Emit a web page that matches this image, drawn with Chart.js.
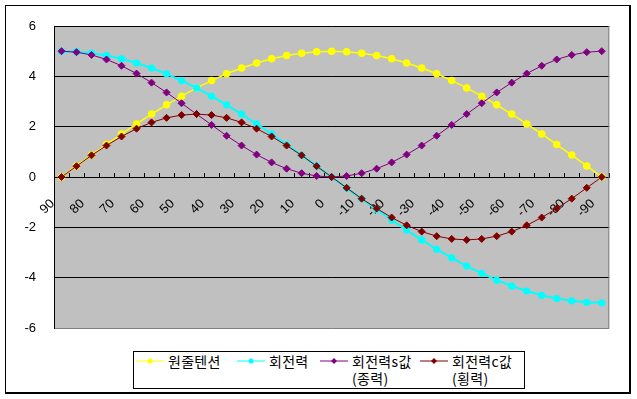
<!DOCTYPE html>
<html>
<head>
<meta charset="utf-8">
<script src="https://cdn.jsdelivr.net/npm/chart.js@4"></script>
<style>
  body { margin: 0; background: #fff; }
  #wrap { position: relative; width: 637px; height: 399px; }
  #frame { position: absolute; left: 5px; top: 5px; width: 623px; height: 386px;
    border: 1px solid #000; border-right-width: 2px; border-bottom-width: 2px; }
  canvas { position: absolute; left: 0; top: 0; }
  #legend { position: absolute; left: 133px; top: 351px; width: 388px; height: 36px;
    border: 1px solid #000; background: #fff; display: flex; padding-left: 2px;
    font: 14px "Noto Sans CJK KR"; color: #000; box-sizing: content-box; }
  .item { display: flex; align-items: flex-start; flex: none; }
  .item svg { margin-top: 3px; margin-right: 4px; flex: none; }
  .item span { line-height: 17px; padding-top: 1px; white-space: nowrap; letter-spacing: 0.3px; }
</style>
</head>
<body>
<div id="wrap">
  <div id="frame"></div>
  <canvas id="myChart" width="637" height="399"></canvas>
  <div id="legend"></div>
</div>
<script>
const angles = [90, 85, 80, 75, 70, 65, 60, 55, 50, 45, 40, 35, 30, 25, 20, 15, 10, 5, 0,
  -5, -10, -15, -20, -25, -30, -35, -40, -45, -50, -55, -60, -65, -70, -75, -80, -85, -90];

const tensionValues = [0, 0.44, 0.87, 1.29, 1.71, 2.11, 2.5, 2.87, 3.21, 3.54, 3.83, 4.1, 4.33,
  4.53, 4.7, 4.83, 4.92, 4.98, 5, 4.98, 4.92, 4.83, 4.7, 4.53, 4.33, 4.1, 3.83, 3.54, 3.21,
  2.87, 2.5, 2.11, 1.71, 1.29, 0.87, 0.44, 0];

const torqueValues = [5, 4.98, 4.92, 4.83, 4.7, 4.53, 4.33, 4.1, 3.83, 3.54, 3.21, 2.87, 2.5,
  2.11, 1.71, 1.29, 0.87, 0.44, 0, -0.44, -0.87, -1.29, -1.71, -2.11, -2.5, -2.87, -3.21,
  -3.54, -3.83, -4.1, -4.33, -4.53, -4.7, -4.83, -4.92, -4.98, -5];

const torqueSValues = [5, 4.96, 4.85, 4.67, 4.42, 4.11, 3.75, 3.36, 2.93, 2.5, 2.07, 1.64, 1.25,
  0.89, 0.58, 0.33, 0.15, 0.04, 0, 0.04, 0.15, 0.33, 0.58, 0.89, 1.25, 1.64, 2.07, 2.5, 2.93,
  3.36, 3.75, 4.11, 4.42, 4.67, 4.85, 4.96, 5];

const torqueCValues = [0, 0.43, 0.86, 1.25, 1.61, 1.92, 2.17, 2.35, 2.46, 2.5, 2.46, 2.35, 2.17,
  1.92, 1.61, 1.25, 0.86, 0.43, 0, -0.43, -0.86, -1.25, -1.61, -1.92, -2.17, -2.35, -2.46,
  -2.5, -2.46, -2.35, -2.17, -1.92, -1.61, -1.25, -0.86, -0.43, 0];

const seriesNames = ["원줄텐션", "회전력", ["회전력s값", "(종력)"], ["회전력c값", "(횡력)"]];

const plotBox = {
  id: "plotBox",
  beforeDraw(chart) {
    const { ctx, chartArea: a } = chart;
    ctx.save();
    ctx.fillStyle = "#c0c0c0";
    ctx.fillRect(a.left, a.top, a.right - a.left, a.bottom - a.top);
    ctx.restore();
  },
  beforeDatasetsDraw(chart) {
    const { ctx, chartArea: a } = chart;
    ctx.save();
    ctx.strokeStyle = "#808080";
    ctx.lineWidth = 1;
    ctx.beginPath();
    ctx.moveTo(a.right - 0.5, a.top);
    ctx.lineTo(a.right - 0.5, a.bottom);
    ctx.stroke();
    ctx.restore();
  },
};

const tickFont = { family: "Liberation Sans", size: 13 };

const newChart = document.getElementById("myChart").getContext("2d");
const myChart = new Chart(newChart, {
  type: "line",
  data: {
    labels: angles,
    datasets: [
      {
        label: seriesNames[0],
        data: tensionValues,
        borderColor: "#ffff00",
        backgroundColor: "#ffff00",
        borderWidth: 1.5,
        pointStyle: "circle",
        pointRadius: 3,
        order: 4,
      },
      {
        label: seriesNames[1],
        data: torqueValues,
        borderColor: "#00ffff",
        backgroundColor: "#00ffff",
        borderWidth: 2,
        pointStyle: "circle",
        pointRadius: 2.6,
        order: 3,
      },
      {
        label: seriesNames[2],
        data: torqueSValues,
        borderColor: "#800080",
        backgroundColor: "#800080",
        borderWidth: 1,
        pointStyle: "rectRot",
        pointRadius: 3.5,
        order: 2,
      },
      {
        label: seriesNames[3],
        data: torqueCValues,
        borderColor: "#800000",
        backgroundColor: "#800000",
        borderWidth: 1,
        pointStyle: "rectRot",
        pointRadius: 3.5,
        order: 1,
      },
    ],
  },
  options: {
    responsive: false,
    animation: false,
    layout: { padding: { left: 5, top: 26, right: 15, bottom: 71 } },
    elements: { line: { tension: 0 }, point: { borderWidth: 0, hoverRadius: 3.5 } },
    plugins: { legend: { display: false }, tooltip: { enabled: false } },
    scales: {
      x: {
        type: "category",
        position: { y: 0 },
        offset: true,
        grid: { offset: true, drawOnChartArea: false, drawTicks: true, tickLength: -5, color: "#000" },
        border: { color: "#000", width: 1 },
        ticks: {
          autoSkip: false,
          minRotation: 45,
          maxRotation: 45,
          padding: 24,
          labelOffset: -9,
          color: "#000",
          font: tickFont,
          callback(value, index) {
            return index % 2 === 0 ? String(this.getLabelForValue(value)) : "";
          },
        },
      },
      y: {
        min: -6,
        max: 6,
        afterFit(scale) {
          scale.width = 49;
        },
        grid: {
          drawTicks: false,
          color: (ctx) => (ctx.tick && ctx.tick.value === -6 ? "#808080" : "#000"),
        },
        border: { color: "#000", width: 1 },
        ticks: { stepSize: 2, padding: 18, color: "#000", font: tickFont },
      },
    },
  },
  plugins: [plotBox],
});

// legend built from the chart's datasets
const itemWidths = [101, 83, 100, 100];
const legendBox = document.getElementById("legend");
myChart.data.datasets.forEach((ds, i) => {
  const item = document.createElement("div");
  item.className = "item";
  item.style.width = itemWidths[i] + "px";
  const r = ds.pointStyle === "circle" ? 2.5 : 3;
  const mark = ds.pointStyle === "circle"
    ? `<circle cx="14" cy="6" r="${r}" fill="${ds.backgroundColor}"/>`
    : `<polygon points="14,${6 - r} ${14 + r},6 14,${6 + r} ${14 - r},6" fill="${ds.backgroundColor}"/>`;
  item.innerHTML =
    `<svg width="28" height="12"><line x1="0" y1="6" x2="28" y2="6" stroke="${ds.borderColor}" stroke-width="1"/>${mark}</svg>`;
  const text = document.createElement("span");
  text.innerHTML = [].concat(ds.label).join("<br>");
  item.appendChild(text);
  legendBox.appendChild(item);
});
</script>
</body>
</html>
